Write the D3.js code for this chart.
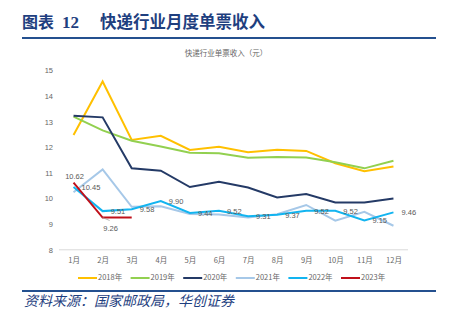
<!DOCTYPE html>
<html><head><meta charset="utf-8">
<script src="https://cdn.jsdelivr.net/npm/d3@7"></script>
<style>
html,body{margin:0;padding:0;background:#fff;}
svg{display:block;}
</style></head>
<body>
<svg id="c" width="456" height="331"></svg>
<script>
const months = ["1月","2月","3月","4月","5月","6月","7月","8月","9月","10月","11月","12月"];
const yTicks = [8,9,10,11,12,13,14,15];
const seriesNames = ["2018年","2019年","2020年","2021年","2022年","2023年"];
const seriesColors = ["#FFC000","#92D050","#243A66","#A6C8E8","#12B4F0","#C0101A"];
const v2018 = [12.48,14.57,12.29,12.45,11.90,12.02,11.81,11.91,11.86,11.38,11.07,11.25];
const v2019 = [13.20,12.66,12.26,12.03,11.79,11.77,11.59,11.62,11.60,11.42,11.18,11.48];
const v2020 = [13.23,13.17,11.18,11.09,10.45,10.66,10.43,10.04,10.18,9.85,9.85,10.00];
const v2021 = [10.25,11.14,9.68,9.70,9.40,9.38,9.26,9.39,9.75,9.14,9.48,8.94];
const v2022 = [10.45,9.51,9.58,9.90,9.44,9.52,9.31,9.37,9.52,9.52,9.15,9.46];
const v2023 = [10.62,9.26,9.26];
const allSeries = [v2018,v2019,v2020,v2021,v2022,v2023];

const svg = d3.select("#c");
const font = "'Liberation Sans', Arial, sans-serif";
const cjk = "'Noto Sans CJK SC', sans-serif";

// header
svg.append("text").attr("x",22).attr("y",28).attr("font-family",cjk).attr("font-weight","bold")
  .attr("font-size",16).attr("fill","#1F3F7F").text("图表");
svg.append("text").attr("x",62).attr("y",28).attr("font-family","'Liberation Serif', serif").attr("font-weight","bold")
  .attr("font-size",17).attr("fill","#1F3F7F").text("12");
svg.append("text").attr("x",100).attr("y",28).attr("font-family",cjk).attr("font-weight","bold")
  .attr("font-size",16.5).attr("fill","#1F3F7F").text("快递行业月度单票收入");
svg.append("line").attr("x1",22).attr("x2",436).attr("y1",38).attr("y2",38)
  .attr("stroke","#24508F").attr("stroke-width",2);

// chart title
svg.append("text").attr("x",226).attr("y",56).attr("text-anchor","middle")
  .attr("font-family",cjk).attr("font-size",7.5).attr("fill","#666").text("快递行业单票收入（元）");

const x = d3.scalePoint().domain(months).range([59,408]).padding(0.5);
const y = d3.scaleLinear().domain([8,15]).range([249.8,70.5]);

// baseline
svg.append("line").attr("x1",59).attr("x2",408).attr("y1",y(8)).attr("y2",y(8))
  .attr("stroke","#D9D9D9").attr("stroke-width",1);

// y axis
const ya = svg.append("g").attr("transform","translate(59,0)")
  .call(d3.axisLeft(y).tickValues(yTicks).tickSize(0).tickPadding(6).tickFormat(d3.format("d")));
ya.select(".domain").remove();
ya.selectAll("text").attr("font-family",font).attr("font-size",7.5).attr("fill","#666");

// x axis
const xa = svg.append("g").attr("transform",`translate(0,${y(8)})`)
  .call(d3.axisBottom(x).tickSize(0).tickPadding(8));
xa.select(".domain").remove();
xa.selectAll("text").attr("font-family",cjk).attr("font-size",7.5).attr("fill","#666");

// lines
const line = d3.line().x((d,i)=>x(months[i])).y(d=>y(d));
allSeries.forEach((s,k)=>{
  svg.append("path").datum(s).attr("d",line).attr("fill","none")
    .attr("stroke",seriesColors[k]).attr("stroke-width",2).attr("stroke-linejoin","miter");
});

// data labels 2022
const lab = svg.append("g").attr("font-family",font).attr("font-size",7.5).attr("fill","#595959");
v2022.forEach((v,i)=>{
  lab.append("text").attr("x",x(months[i])+8).attr("y",y(v)+1).attr("dominant-baseline","middle")
    .text(v.toFixed(2));
});
// 2023 labels
lab.append("text").attr("x",x(months[0])+1).attr("y",y(v2023[0])-6).attr("text-anchor","middle")
  .attr("dominant-baseline","middle").text(v2023[0].toFixed(2));
svg.append("line").attr("x1",x(months[1])).attr("y1",y(v2023[1])).attr("x2",x(months[1])+7).attr("y2",y(v2023[1])+3)
  .attr("stroke","#999").attr("stroke-width",0.7);
lab.append("text").attr("x",x(months[1])+8).attr("y",y(v2023[1])+11).attr("text-anchor","middle")
  .attr("dominant-baseline","middle").text(v2023[1].toFixed(2));

// legend
const lg = svg.append("g");
seriesNames.forEach((n,k)=>{
  const lx = 78 + k*52.6;
  lg.append("line").attr("x1",lx).attr("x2",lx+19).attr("y1",278).attr("y2",278)
    .attr("stroke",seriesColors[k]).attr("stroke-width",2);
  lg.append("text").attr("x",lx+20).attr("y",278).attr("dominant-baseline","middle")
    .attr("font-family",cjk).attr("font-size",7.5).attr("fill","#666").text(n);
});

// footer
svg.append("line").attr("x1",22).attr("x2",436).attr("y1",291).attr("y2",291)
  .attr("stroke","#24508F").attr("stroke-width",2);
svg.append("text").attr("x",24).attr("y",306).attr("font-family",cjk).attr("font-style","italic")
  .attr("font-size",14).attr("fill","#1F3F7F").attr("transform","skewX(0)").text("资料来源：国家邮政局，华创证券");
</script>
</body></html>
